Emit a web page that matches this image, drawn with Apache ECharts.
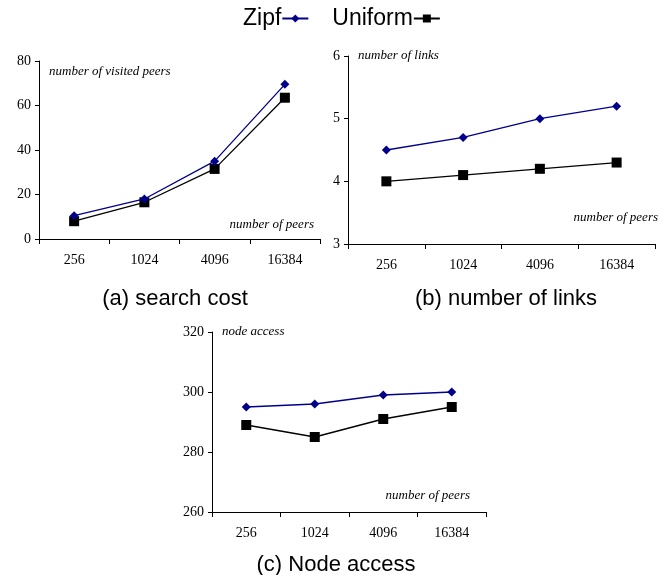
<!DOCTYPE html>
<html><head><meta charset="utf-8">
<script src="https://cdn.jsdelivr.net/npm/echarts@6/dist/echarts.min.js"></script>
<style>html,body{margin:0;padding:0;background:#fff}#c{width:671px;height:575px}</style>
</head><body><div id="c"></div>
<script>
var categories = ['256', '1024', '4096', '16384'];
var seriesNames = ['Zipf', 'Uniform'];
var costZipf = [10.5, 18, 35, 69.5];
var costUniform = [8, 16.5, 31.5, 63.5];
var linksZipf = [4.5, 4.7, 5.0, 5.2];
var linksUniform = [4.0, 4.1, 4.2, 4.3];
var accessZipf = [295, 296, 299, 300];
var accessUniform = [289, 285, 291, 295];
var captions = ['(a) search cost', '(b) number of links', '(c) Node access'];
var yNames = ['number of visited peers', 'number of links', 'node access'];
var xName = 'number of peers';

var serif = '"Liberation Serif", "DejaVu Serif", serif';
var sans = '"Liberation Sans", Arial, sans-serif';
var zipfColor = '#00008B';

var grids = [
  {left: 39, right: 351, top: 61, bottom: 336},
  {left: 348, right: 16, top: 56, bottom: 331},
  {left: 212, right: 185, top: 332, bottom: 63}
];
var yRanges = [[0, 80, 20], [3, 6, 1], [260, 320, 20]];
var yNameCfg = [
  {gap: -11, pad: [0, 0, 0, 10]},
  {gap: 0, pad: [0, 0, 0, 10]},
  {gap: 0, pad: [0, 0, 0, 10]}
];
var xNameCfg = [
  {gap: -6, pad: [0, 0, 8, 0]},
  {gap: 3, pad: [0, 0, 20, 0]},
  {gap: -16, pad: [0, 0, 10, 0]}
];

function xAxisFor(i) {
  return {
    type: 'category', gridIndex: i, data: categories, boundaryGap: true,
    axisLine: {lineStyle: {color: '#000', width: 1}},
    axisTick: {show: true, length: 5, alignWithLabel: false, lineStyle: {color: '#000'}},
    axisLabel: {color: '#000', fontFamily: serif, fontSize: 14, margin: 14},
    name: xName, nameLocation: 'end', nameGap: xNameCfg[i].gap,
    nameTextStyle: {fontFamily: serif, fontStyle: 'italic', fontSize: 13, color: '#000',
      align: 'right', verticalAlign: 'bottom', padding: xNameCfg[i].pad},
    splitLine: {show: false}
  };
}
function yAxisFor(i) {
  return {
    type: 'value', gridIndex: i, min: yRanges[i][0], max: yRanges[i][1], interval: yRanges[i][2],
    axisLine: {show: true, lineStyle: {color: '#000', width: 1}},
    axisTick: {show: true, length: 4, lineStyle: {color: '#000'}},
    axisLabel: {color: '#000', fontFamily: serif, fontSize: 14, margin: 8},
    splitLine: {show: false},
    name: yNames[i], nameLocation: 'end', nameGap: yNameCfg[i].gap,
    nameTextStyle: {fontFamily: serif, fontStyle: 'italic', fontSize: 13, color: '#000',
      align: 'left', verticalAlign: 'middle', padding: yNameCfg[i].pad}
  };
}
function zipf(i, data) {
  return {name: seriesNames[0], type: 'line', xAxisIndex: i, yAxisIndex: i, data: data,
    symbol: 'diamond', symbolSize: 9, color: zipfColor,
    lineStyle: {color: zipfColor, width: 1.3}, itemStyle: {color: zipfColor}, z: 3};
}
function unif(i, data) {
  return {name: seriesNames[1], type: 'line', xAxisIndex: i, yAxisIndex: i, data: data,
    symbol: 'rect', symbolSize: 10, color: '#000',
    lineStyle: {color: '#000', width: 1.3}, itemStyle: {color: '#000'}, z: 2};
}

var capStyle = {fontFamily: sans, fontSize: 22, fontWeight: 'normal', color: '#000'};
var chart = echarts.init(document.getElementById('c'), null, {renderer: 'canvas'});
chart.setOption({
  animation: false,
  backgroundColor: '#fff',
  title: [
    {text: captions[0], left: 170, top: 283, textAlign: 'center', textStyle: capStyle},
    {text: captions[1], left: 501, top: 283, textAlign: 'center', textStyle: capStyle},
    {text: captions[2], left: 331, top: 549, textAlign: 'center', textStyle: capStyle}
  ],
  legend: {
    top: 2, left: 238, align: 'right', itemGap: 23, itemWidth: 26, itemHeight: 10,
    textStyle: {fontFamily: sans, fontSize: 23, color: '#000', padding: [0, -4, 0, 0]},
    data: seriesNames
  },
  grid: grids,
  xAxis: [xAxisFor(0), xAxisFor(1), xAxisFor(2)],
  yAxis: [yAxisFor(0), yAxisFor(1), yAxisFor(2)],
  series: [
    zipf(0, costZipf), unif(0, costUniform),
    zipf(1, linksZipf), unif(1, linksUniform),
    zipf(2, accessZipf), unif(2, accessUniform)
  ]
});
</script></body></html>
